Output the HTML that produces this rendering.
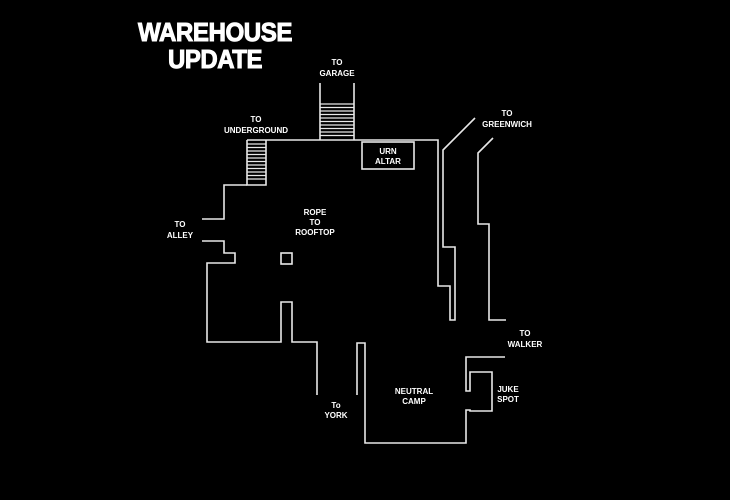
<!DOCTYPE html>
<html><head><style>
html,body{margin:0;padding:0;background:#000;}
svg{display:block}
text{font-family:"Liberation Sans",sans-serif;font-weight:bold;fill:#fff;text-anchor:middle}
.s{font-size:8px}
.t{font-size:26px;letter-spacing:-0.5px;stroke:#fff;stroke-width:1}
</style></head><body>
<svg width="730" height="500" viewBox="0 0 730 500">
<rect width="730" height="500" fill="#000"/>
<text class="t" x="215" y="41" textLength="154" lengthAdjust="spacingAndGlyphs">WAREHOUSE</text>
<text class="t" x="215" y="68" textLength="94" lengthAdjust="spacingAndGlyphs">UPDATE</text>
<g fill="none" stroke="#e8e8e8" stroke-width="1.6">
<polyline points="320,83 320,140"/><polyline points="354,83 354,140"/>
<polyline points="247,140 438,140 438,286 450,286 450,320 455,320 455,247 443,247 443,150 475,118"/>
<polyline points="493,138 478,153 478,224 489,224 489,320 506,320"/>
<polyline points="247,140 247,185 266,185 266,140"/>
<polyline points="247,185 224,185 224,219 202,219"/>
<polyline points="202,241 224,241 224,253 235,253 235,263 207,263 207,342 281,342 281,302 292,302 292,342 317,342 317,395"/>
<rect x="281" y="253" width="11" height="11"/>
<rect x="362" y="142" width="52" height="27"/>
<polyline points="357,395 357,343 365,343 365,443 466,443 466,410 470,410 470,411 492,411 492,372 470,372 470,391 466,391 466,357 505,357"/>
</g>
<g stroke="#e8e8e8" stroke-width="1.2">
<path d="M320 104H354M320 107.5H354M320 111H354M320 114.5H354M320 118H354M320 121.5H354M320 125H354M320 128.5H354M320 132H354M320 135.5H354"/>
<path d="M247 144H266M247 147.5H266M247 151H266M247 154.5H266M247 158H266M247 161.5H266M247 165H266M247 168.5H266M247 172H266M247 175.5H266M247 179H266"/>
</g>
<text class="s" x="337" y="65">TO</text><text class="s" x="337" y="76">GARAGE</text>
<text class="s" x="256" y="122">TO</text><text class="s" x="256" y="133">UNDERGROUND</text>
<text class="s" x="388" y="154">URN</text><text class="s" x="388" y="164">ALTAR</text>
<text class="s" x="315" y="215">ROPE</text><text class="s" x="315" y="225">TO</text><text class="s" x="315" y="235">ROOFTOP</text>
<text class="s" x="180" y="227">TO</text><text class="s" x="180" y="238">ALLEY</text>
<text class="s" x="507" y="116">TO</text><text class="s" x="507" y="127">GREENWICH</text>
<text class="s" x="525" y="336">TO</text><text class="s" x="525" y="347">WALKER</text>
<text class="s" x="508" y="392">JUKE</text><text class="s" x="508" y="402">SPOT</text>
<text class="s" x="414" y="394">NEUTRAL</text><text class="s" x="414" y="404">CAMP</text>
<text class="s" x="336" y="408">To</text><text class="s" x="336" y="418">YORK</text>
</svg>
</body></html>
